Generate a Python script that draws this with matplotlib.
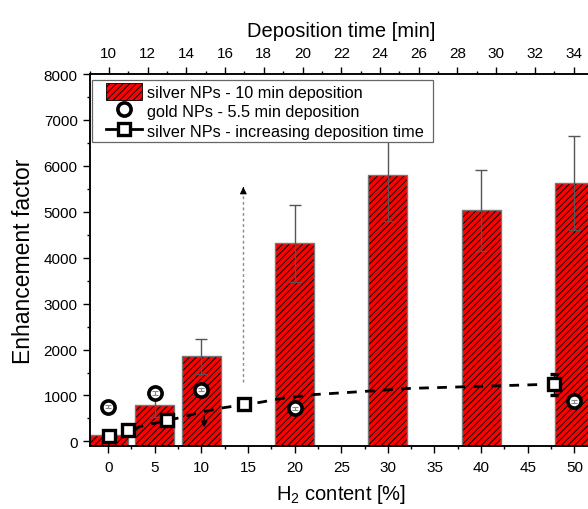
import numpy as np
import matplotlib
matplotlib.use("Agg")
import matplotlib.pyplot as plt
from matplotlib.patches import Patch, Rectangle
from matplotlib.lines import Line2D
from matplotlib.ticker import MultipleLocator

plt.rcParams['font.family'] = ['Liberation Sans', 'DejaVu Sans']
plt.rcParams['mathtext.fontset'] = 'custom'
plt.rcParams['mathtext.rm'] = 'Liberation Sans'
plt.rcParams['hatch.linewidth'] = 0.7

# silver NPs - 10 min deposition (bars, bottom axis)
h2_bars = [0, 5, 10, 20, 30, 40, 50]
ef_bars = [130, 800, 1850, 4310, 5790, 5030, 5620]
ef_bars_err = [0, 260, 380, 835, 980, 890, 1020]

# gold NPs - 5.5 min deposition (circles, bottom axis)
h2_gold = [0, 5, 10, 20, 50]
ef_gold = [760, 1050, 1130, 720, 870]
ef_gold_err = [40, 40, 40, 40, 40]

# silver NPs - increasing deposition time (squares, top axis)
t_silver = [10, 11, 13, 17, 33]
ef_silver = [110, 240, 460, 810, 1240]
ef_silver_err = [30, 40, 50, 60, 230]

# dashed trend line (top axis)
t_fit = [11.3, 11.65, 13.7, 14.7, 15.7, 17.8, 18.9, 20.6, 22.5, 25.6, 29.2, 32.4]
ef_fit = [270, 330, 520, 630, 720, 850, 935, 1020, 1070, 1155, 1200, 1240]

# dotted arrow and small arrow
arrow_x = 14.5
arrow_y = (1290, 5600)
small_arrow_x = 10.3
small_arrow_y = (620, 240)

Y_MIN = -100

fig = plt.figure(figsize=(5.88, 5.10), dpi=100)
ax = fig.add_axes([89.5 / 588, 63 / 510, (593 - 89.5) / 588, 372 / 510])

# bars: red with black hatch, then grey outline
heights = [v - Y_MIN for v in ef_bars]
ax.bar(h2_bars, heights, width=4.2, bottom=Y_MIN, color='#ff0000',
       edgecolor='black', linewidth=0, hatch='/////', zorder=2)
ax.bar(h2_bars, heights, width=4.2, bottom=Y_MIN, fill=False,
       edgecolor='#777777', linewidth=1.0, zorder=2.1)
ax.errorbar(h2_bars, ef_bars, yerr=ef_bars_err, fmt='none', ecolor='#555555',
            elinewidth=1.0, capsize=4, capthick=1.0, zorder=2.5)

# gold circles
ax.plot(h2_gold, ef_gold, 'o', ms=9.5, mfc='white', mec='black', mew=2.6, zorder=4)
ax.errorbar(h2_gold, ef_gold, yerr=ef_gold_err, fmt='none', ecolor='#888888',
            elinewidth=0.8, capsize=2.5, capthick=0.8, zorder=4.5)

# arrows
ax.plot([arrow_x, arrow_x], [arrow_y[0], arrow_y[1] - 150], ls=(0, (2, 2)),
        color='#888888', lw=1.0, zorder=3)
ax.annotate('', xy=(arrow_x, arrow_y[1]), xytext=(arrow_x, arrow_y[1] - 160),
            arrowprops=dict(arrowstyle='-|>', color='black', lw=0.8,
                            mutation_scale=10), zorder=3)
ax.annotate('', xy=(small_arrow_x, small_arrow_y[1]),
            xytext=(small_arrow_x, small_arrow_y[0]),
            arrowprops=dict(arrowstyle='-|>', color='black', lw=1.0, ls='--',
                            mutation_scale=9), zorder=3)

ax.set_xlim(-2, 52)
ax.set_ylim(Y_MIN, 8000)
ax.xaxis.set_major_locator(MultipleLocator(5))
ax.xaxis.set_minor_locator(MultipleLocator(2.5))
ax.yaxis.set_major_locator(MultipleLocator(1000))
ax.yaxis.set_minor_locator(MultipleLocator(500))
ax.tick_params(which='both', direction='out', labelsize=11, width=1.0,
               top=False, right=False)
ax.tick_params(which='major', length=5)
ax.tick_params(which='minor', length=2.5)
ax.tick_params(axis='x', pad=5)
ax.set_xlabel('H$_\\mathregular{2}$ content [%]', fontsize=14.5, labelpad=6)
ax.set_ylabel('Enhancement factor', fontsize=16.5, labelpad=6.5)
for s in ax.spines.values():
    s.set_linewidth(1.1)

# top axis: deposition time
ax2 = ax.twiny()
ax2.set_xlim(9, 35)
ax2.plot(t_fit, ef_fit, color='black', lw=2.0, dashes=(3.5, 3), zorder=3)
ax2.errorbar(t_silver, ef_silver, yerr=ef_silver_err, fmt='s', ms=9,
             mfc='white', mec='black', mew=2.4, ecolor='black',
             elinewidth=1.0, capsize=3, capthick=1.0, zorder=4)
ax2.xaxis.set_minor_locator(MultipleLocator(1))
ax2.set_xticks([10, 12, 14, 16, 18, 20, 22, 24, 26, 28, 30, 32, 34])
ax2.tick_params(which='both', direction='out', labelsize=11, width=1.0, pad=5)
ax2.tick_params(which='major', length=5)
ax2.tick_params(which='minor', length=2.5)
ax2.set_xlabel('Deposition time [min]', fontsize=14.5, labelpad=7)
for s in ax2.spines.values():
    s.set_linewidth(1.1)

handles = [
    Patch(facecolor='#ff0000', edgecolor='black', linewidth=0.6, hatch='/////'),
    Line2D([], [], marker='o', ls='none', ms=9.5, mfc='white', mec='black', mew=2.6),
    Line2D([], [], marker='s', ls='-', color='black', lw=2.0, ms=9,
           mfc='white', mec='black', mew=2.4),
]
labels = ['silver NPs - 10 min deposition', 'gold NPs - 5.5 min deposition',
          'silver NPs - increasing deposition time']
# legend without its own frame; the frame is drawn round it with wider left padding
leg = ax2.legend(handles, labels, loc='upper left',
                 bbox_to_anchor=(106 / 588, 1 - 84 / 510),
                 bbox_transform=fig.transFigure, borderaxespad=0, borderpad=0,
                 fontsize=11.7, frameon=False, handlelength=2.2,
                 handleheight=1.2, labelspacing=0.17, handletextpad=0.35)
fig.canvas.draw()
bb = leg.get_window_extent().transformed(fig.transFigure.inverted())
pad_l, pad_r, pad_v = 14 / 588, 9 / 588, 3.5 / 510
frame = Rectangle((bb.x0 - pad_l, bb.y0 - pad_v),
                  bb.width + pad_l + pad_r, bb.height + 2 * pad_v,
                  transform=fig.transFigure, facecolor='white',
                  edgecolor='#666666', linewidth=0.9, zorder=9)
fig.add_artist(frame)
leg.set_zorder(10)
leg.remove()
fig.add_artist(leg)

fig.savefig('out.png', dpi=100)
